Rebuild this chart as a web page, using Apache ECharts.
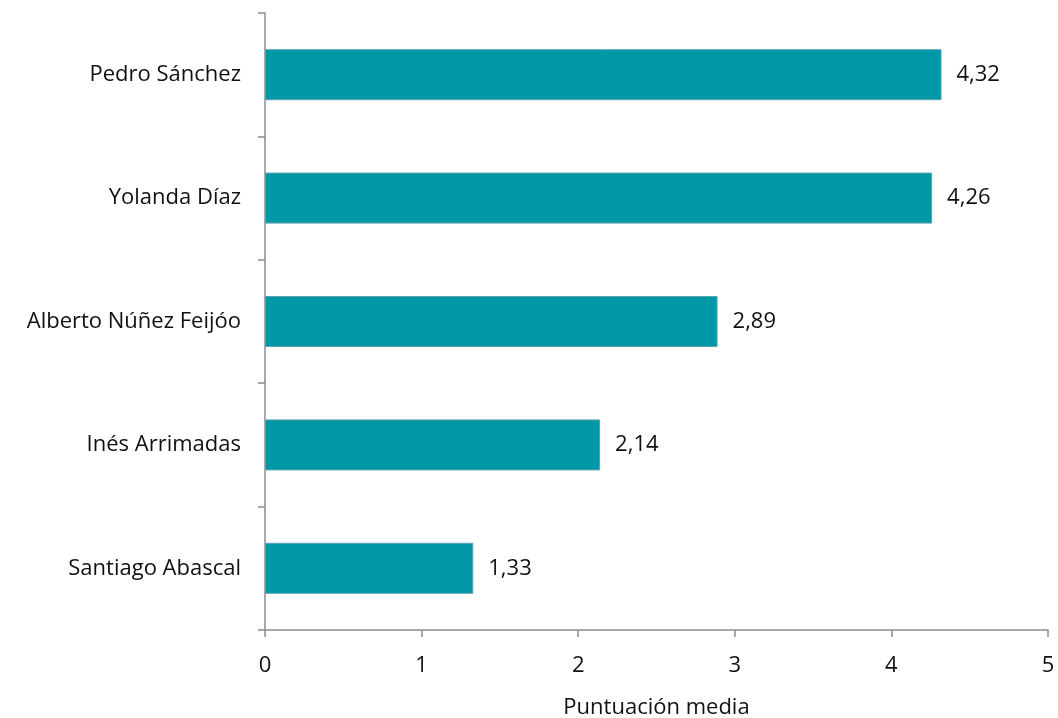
<!DOCTYPE html>
<html>
<head>
<meta charset="utf-8">
<script src="https://cdn.jsdelivr.net/npm/echarts@6/dist/echarts.min.js"></script>
<style>html,body{margin:0;padding:0;background:#fff}#c{width:1058px;height:718px}</style>
</head>
<body>
<div id="c"></div>
<script>
const categories = ["Pedro Sánchez", "Yolanda Díaz", "Alberto Núñez Feijóo", "Inés Arrimadas", "Santiago Abascal"];
const values = [4.32, 4.26, 2.89, 2.14, 1.33];
const axisName = "Puntuación media";

const FONT = "'Open Sans', sans-serif";
const FS = 22;
const chart = echarts.init(document.getElementById('c'), null, {renderer: 'canvas'});
chart.setOption({
  animation: false,
  backgroundColor: '#fff',
  grid: {left: 265, right: 10, top: 13, bottom: 88, containLabel: false, outerBoundsMode: 'none'},
  xAxis: {
    type: 'value', min: 0, max: 5, interval: 1,
    name: axisName, nameLocation: 'middle', nameGap: 67,
    nameTextStyle: {fontFamily: FONT, fontSize: FS, color: '#111'},
    axisLine: {show: true, lineStyle: {color: '#8c8c8c', width: 1.5}},
    axisTick: {show: true, length: 7, lineStyle: {color: '#8c8c8c', width: 1.5}},
    axisLabel: {fontFamily: FONT, fontSize: FS, color: '#111', margin: 25},
    splitLine: {show: false}
  },
  yAxis: {
    type: 'category', data: categories, inverse: true,
    axisLine: {show: true, lineStyle: {color: '#8c8c8c', width: 1.5}},
    axisTick: {show: true, length: 7, lineStyle: {color: '#8c8c8c', width: 1.5}},
    axisLabel: {fontFamily: FONT, fontSize: FS, color: '#111', margin: 24}
  },
  series: [{
    type: 'bar', data: values, barWidth: 51,
    itemStyle: {color: '#0097a7', borderColor: '#5aa3b3', borderWidth: 1},
    label: {
      show: true, position: 'right', distance: 15,
      fontFamily: FONT, fontSize: FS, color: '#111',
      formatter: p => p.value.toFixed(2).replace('.', ',')
    }
  }]
});
</script>
</body>
</html>
